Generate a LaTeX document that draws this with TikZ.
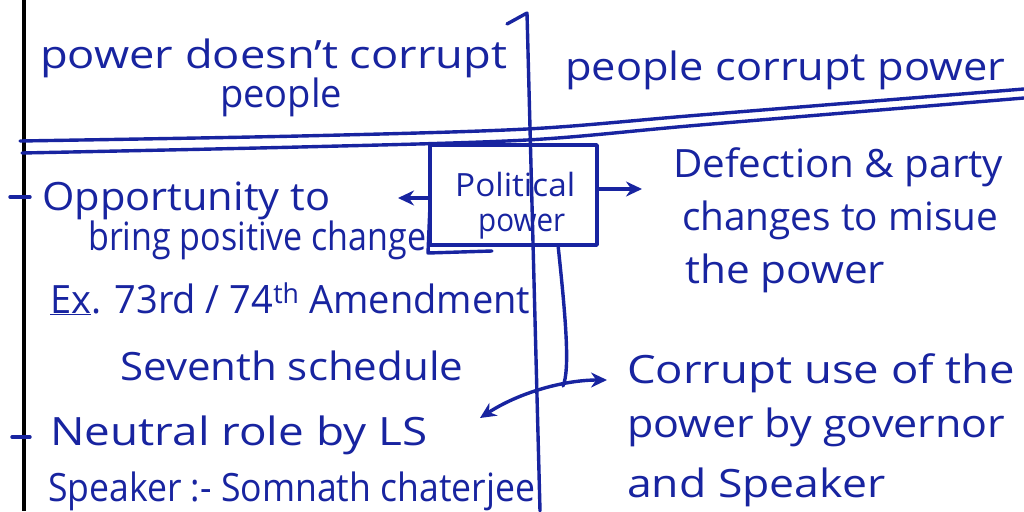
\documentclass[tikz,border=0pt]{standalone}
\usepackage{fontspec}
\setmainfont{Open Sans}
\usepackage{graphicx}
\usetikzlibrary{arrows.meta}
\definecolor{ink}{RGB}{24,36,160}
% set a line of text at a given width, keeping its natural height
\newcommand{\fitw}[2]{\resizebox{#1pt}{\height}{#2}}
\begin{document}
\begin{tikzpicture}[x=1pt,y=-1pt,
  hand/.style={anchor=base west,inner sep=0pt,text=ink,font=\fontsize{39}{39}\selectfont},
  boxtext/.style={hand,font=\fontsize{32}{32}\selectfont},
  pen/.style={draw=ink,line width=3.4pt,line cap=round,line join=round},
  tipr/.style={-{Stealth[length=16pt,width=15pt]}},
  tipboth/.style={{Stealth[length=16pt,width=15pt]}-{Stealth[length=16pt,width=15pt]}}
]
\fill[white] (0,0) rectangle (1024,511);
\useasboundingbox (0,0) rectangle (1024,511);

% page margin
\draw[black,line width=4.5pt] (24,0) -- (24,511);

% double rule under the headings
\draw[pen] plot[smooth] coordinates {(20,141) (300,136) (527,129) (700,115) (1024,89)};
\draw[pen] plot[smooth] coordinates {(22,153) (300,147) (527,140) (700,125) (1024,98)};

% headings
\node[hand] (h1) at (40,68) {\fitw{467}{power doesn't corrupt}};
\node[hand] (h2) at (220,107) {\fitw{122}{people}};
\node[hand] (h3) at (565,80) {\fitw{440}{people corrupt power}};

% central box
\node[pen,minimum width=167pt,minimum height=100pt,inner sep=0pt] (pp) at (513.5,195) {};
\node[boxtext] (pp1) at (455,196) {\fitw{120}{Political}};
\node[boxtext] (pp2) at (478,231) {\fitw{87}{power}};

% middle divider with its bracket at the top
\coordinate (bk) at (507,24);
\coordinate (dt) at (527,13);
\coordinate (db) at (540,511);
\draw[pen] (bk) -- (dt) -- (db);

% extra stroke round the lower left corner of the box
\coordinate (bl1) at (430,205);
\coordinate (bl2) at (428,253);
\coordinate (bl3) at (492,251);
\draw[pen] (bl1) -- (bl2) -- (bl3);

% arrows out of the box
\coordinate (lt) at (398,198);
\coordinate (rt) at (642,189);
\draw[pen,tipr] (pp.west |- lt) -- (lt);
\draw[pen,tipr] (pp.east |- rt) -- (rt);

% stem down from the box to the two-way arrow
\coordinate (st) at (558,245);
\coordinate (nr) at (480,418);
\coordinate (cu) at (607,380);
\draw[pen] (st) .. controls (566,320) and (570,370) .. (563,386);
\draw[pen,tipboth] (nr) .. controls (520,392) and (565,380) .. (cu);

% bullet ticks on the margin
\coordinate (k1) at (10,197);
\coordinate (k2) at (12,437);
\draw[pen] (k1) -- ++(20,0);
\draw[pen] (k2) -- ++(18,0);

% left column
\node[hand] (l1) at (42,210) {\fitw{288}{Opportunity to}};
\node[hand] (l2) at (88,250) {\fitw{338}{bring positive change}};
\node[hand] (l3) at (50,313) {\fitw{480}{\underline{Ex}. 73rd / 74\textsuperscript{th} Amendment}};
\node[hand] (l4) at (120,380) {\fitw{343}{Seventh schedule}};
\node[hand] (l5) at (50,445) {\fitw{377}{Neutral role by LS}};
\node[hand] (l6) at (48,501) {\fitw{487}{Speaker :- Somnath chaterjee}};

% right column
\node[hand] (r1) at (673,177) {\fitw{330}{Defection \& party}};
\node[hand] (r2) at (682,230) {\fitw{316}{changes to misue}};
\node[hand] (r3) at (685,283) {\fitw{200}{the power}};
\node[hand] (r4) at (627,383) {\fitw{388}{Corrupt use of the}};
\node[hand] (r5) at (627,437) {\fitw{378}{power by governor}};
\node[hand] (r6) at (627,497) {\fitw{258}{and Speaker}};
\end{tikzpicture}
\end{document}
